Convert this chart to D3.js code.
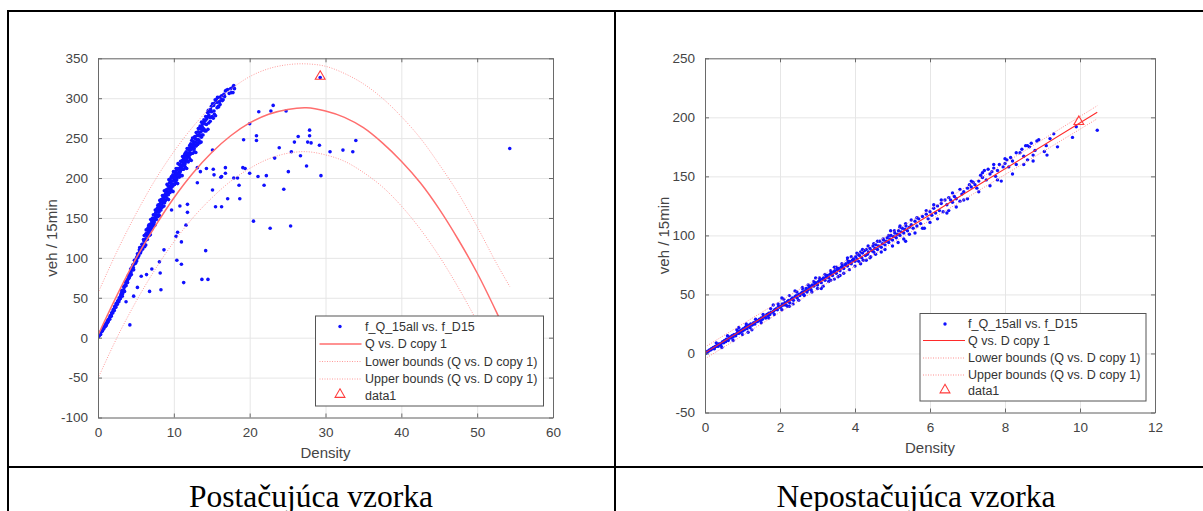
<!DOCTYPE html>
<html>
<head>
<meta charset="utf-8">
<script src="https://cdn.jsdelivr.net/npm/d3@7"></script>
<style>
body { margin: 0; background: #fff; }
svg text { font-family: 'Liberation Sans', Arial, sans-serif; }
</style>
</head>
<body>
<div id="my_dataviz"></div>
<script>
// ---- left panel (Postačujúca vzorka) ----
var leftXTicks = [0, 10, 20, 30, 40, 50, 60];
var leftYTicks = [-100, -50, 0, 50, 100, 150, 200, 250, 300, 350];

// dense band of observations (density, veh / 15min)
var leftBand = [
  [0.05,1],[0.1,2],[0.2,3],[0.3,6],[0.35,4],[0.4,7],[0.5,9],[0.55,8],[0.6,10],[0.7,12],[0.75,11],[0.8,14],
  [0.9,15],[0.95,14],[1.0,17],[1.1,16],[1.15,19],[1.2,18],[1.3,21],[1.35,20],[1.4,23],[1.5,24],[1.55,23],
  [1.6,27],[1.7,28],[1.75,27],[1.8,31],[1.9,32],[1.95,31],[2.0,35],[2.1,36],[2.15,34],[2.2,39],[2.3,40],
  [2.35,38],[2.4,43],[2.5,43],[2.55,42],[2.6,46],[2.7,47],[2.75,45],[2.8,50],[2.9,50],[2.95,49],
  [3.0,53],[3.05,55],[3.1,59],[3.2,52],[3.25,55],[3.3,58],[3.4,64],[3.45,63],[3.5,58],[3.6,70],[3.65,66],
  [3.7,65],[3.8,70],[3.85,72],[3.9,69],[4.0,78],[4.05,74],[4.1,75],[4.2,80],[4.25,81],[4.3,86],[4.4,79],
  [4.45,85],[4.5,85],[4.6,91],[4.65,88],[4.7,85],[4.8,97],[4.85,93],[4.9,93],[5.0,97],[5.05,99],[5.1,96],
  [5.2,105],[5.25,100],[5.3,102],[5.4,106],[5.45,110],[5.5,113],[5.6,106],[5.65,108],[5.7,111],[5.8,117],
  [5.85,116],[5.9,111],[6.0,123],
  [6.05,121],[6.1,128],[6.15,114],[6.2,121],[6.25,129],[6.3,116],[6.35,135],[6.4,123],[6.45,128],[6.5,123],
  [6.55,136],[6.6,129],[6.65,134],[6.7,141],[6.75,128],[6.8,135],[6.85,142],[6.9,129],[6.95,148],[7.0,136],
  [7.05,141],[7.1,136],[7.15,149],[7.2,142],[7.25,147],[7.3,154],[7.35,140],[7.4,147],[7.45,154],[7.5,141],
  [7.55,160],[7.6,148],[7.65,153],[7.7,148],[7.75,161],[7.8,154],[7.85,159],[7.9,166],[7.95,152],[8.0,159],
  [8.05,166],[8.1,153],[8.15,172],[8.2,160],[8.25,165],[8.3,160],[8.35,173],[8.4,166],[8.45,171],[8.5,178],
  [8.55,164],[8.6,171],[8.65,178],[8.7,165],[8.75,184],[8.8,172],[8.85,177],[8.9,172],[8.95,185],[9.0,178],
  [9.05,183],[9.1,192],[9.15,174],[9.2,181],[9.25,190],[9.3,173],[9.35,198],[9.4,182],[9.45,188],[9.5,182],
  [9.55,197],[9.6,187],[9.65,193],[9.7,202],[9.75,184],[9.8,192],[9.85,200],[9.9,183],[9.95,208],[10.0,192],
  [10.05,198],[10.1,192],[10.15,207],[10.2,197],[10.25,203],[10.3,212],[10.35,194],[10.4,201],[10.45,210],
  [10.5,193],[10.55,218],[10.6,202],[10.65,207],[10.7,201],[10.75,217],[10.8,207],[10.85,213],[10.9,221],
  [10.95,203],[11.0,211],[11.05,220],[11.1,203],[11.15,227],[11.2,211],[11.25,217],[11.3,211],[11.35,227],
  [11.4,216],[11.45,222],[11.5,231],[11.55,213],[11.6,221],[11.65,229],[11.7,212],[11.75,237],[11.8,221],
  [11.85,227],[11.9,220],[11.95,236],[12.0,226],[12.05,232],[12.1,241],[12.15,223],[12.2,230],[12.25,239],
  [12.3,222],[12.35,247],[12.4,231],[12.45,237],[12.5,231],[12.55,246],[12.6,236],[12.65,242],[12.7,251],
  [12.75,233],[12.8,241],[12.85,249],[12.9,232],[12.95,257],[13.0,241],[13.1,248],[13.15,242],[13.2,258],
  [13.25,248],[13.3,253],[13.35,262],[13.4,244],[13.5,253],[13.55,262],[13.6,245],[13.65,270],[13.7,254],
  [13.8,260],[13.85,254],[13.9,270],[14.0,261],[14.1,268],[14.2,277],[14.25,259],[14.3,267],[14.4,277],
  [14.5,261],[14.55,285],[14.6,269],[14.7,276],[14.8,271],[14.85,286],[14.9,276],[15.0,283],[15.1,293],
  [15.2,275],[15.3,284],[15.4,294],[15.5,278],[15.6,298],[15.7,288],[15.8,295],[15.9,289],[16.0,301],
  [16.1,292],[16.2,300],[16.4,297],[16.5,298],[16.6,305],[16.8,309],[16.9,310],[17.1,311],[17.6,307],
  [17.8,307],[17.8,314],[17.9,316],[18.0,312]
];
// more band observations, filling the band
var leftBandFill = [
  [0.15,3],[0.45,8],[0.65,11],[0.85,13],[1.05,15],[1.25,21],[1.45,23],[1.65,27],[1.85,31],[2.05,34],[2.25,38],
  [2.45,41],[2.65,45],[2.85,48],[3.12,56],[3.38,60],[3.58,66],[3.72,69],[3.92,73],[4.08,76],[4.18,77],[4.33,82],
  [4.48,88],[4.58,86],[4.72,92],[4.88,96],[4.98,94],[5.12,101],[5.28,104],[5.38,103],[5.52,108],[5.68,113],
  [5.78,112],[5.92,117],[6.02,116],
  [6.12,117],[6.28,124],[6.33,130],[6.47,131],[6.58,127],[6.63,138],[6.78,132],[6.83,137],[6.97,139],[7.08,145],
  [7.13,139],[7.22,150],[7.31,144],[7.42,145],[7.48,150],[7.57,151],[7.63,157],[7.72,153],[7.83,152],[7.88,163],
  [7.97,161],[8.03,157],[8.12,167],[8.18,163],[8.27,170],[8.33,166],[8.42,163],[8.53,174],[8.58,169],[8.62,175],
  [8.73,176],[8.78,169],[8.92,181],[8.97,176],[9.07,179],[9.13,186],[9.22,186],[9.28,179],[9.33,190],[9.43,194],
  [9.48,185],[9.57,190],[9.62,200],[9.73,196],[9.78,189],[9.87,204],[9.93,191],[10.03,203],[10.08,196],
  [10.17,200],[10.23,208],[10.33,205],[10.38,198],[10.47,206],[10.52,212],[10.62,212],[10.68,204],[10.73,211],
  [10.82,217],[10.88,209],[10.97,216],[11.03,213],[11.12,222],[11.18,215],[11.27,224],[11.33,219],[11.42,229],
  [11.48,218],[11.57,226],[11.63,233],[11.72,224],[11.78,231],[11.88,236],[11.93,229],[12.02,238],[12.08,229],
  [12.17,235],[12.23,243],[12.32,236],[12.38,241],[12.47,250],[12.53,240],[12.62,244],[12.68,237],[12.78,252],
  [12.83,245],[12.92,240],[13.03,253],[13.08,244],[13.17,254],[13.23,262],[13.32,247],[13.38,257],[13.47,265],
  [13.57,258],[13.63,251],[13.72,265],[13.78,268],[13.88,262],[13.97,273],[14.08,259],[14.15,272],[14.33,274],
  [14.45,282],[14.62,279],[14.75,283],[14.95,290],[15.05,277],[15.25,291],[15.35,280],[15.45,298],[15.65,295],
  [15.75,301],[15.85,290],[16.05,296],[16.3,303],[16.7,302],[17.3,306],[17.5,312]
];
// scattered observations
var leftScatter = [
  [29.3,326],[21.2,283],[22.8,284],[23.1,291],[24.8,284],[20.0,268],[20.9,253],[20.9,247],[19.2,248],[15.1,235],
  [23.9,238],[25.9,245],[26.4,252],[27.9,260],[27.9,253],[27.65,245],[28.1,244],[29.2,241],[25.5,233],[26.7,228],
  [23.3,225],[30.6,233],[32.3,235],[33.6,233],[34.0,247],[27.5,215],[25.1,208],[29.4,203],[21.1,202],[22.2,203],
  [20.0,206],[19.1,213],[19.4,212],[16.8,213],[16.8,206],[15.2,211],[15.3,204],[14.3,212],[13.5,208],[13.1,213],
  [16.2,201],[16.3,202],[17.9,200],[18.4,200],[18.6,191],[13.1,194],[21.9,191],[24.5,186],[15.1,185],[17.1,174],
  [18.7,174],[15.5,164],[16.3,164],[10.8,165],[11.8,167],[11.8,157],[11.6,141],[20.5,146],[22.7,137],[25.4,140],
  [11.0,120],[14.2,109],[11.0,92],[11.3,69],[13.7,73],[14.5,73],[54.3,237],
  [4.2,16],[3.7,45],[4.7,52],[5.2,63],[6.8,58],[8.3,60],[5.7,77],[6.4,79],[7.1,86],[8.2,81],[8.1,95],[8.7,110],
  [10.4,97],[10.3,127],[10.5,132],[9.7,160]
];
var leftFitD   = [0, 2.5, 5, 7.5, 10, 12.5, 15, 17.5, 20, 22.5, 25, 27.5, 30, 32.5, 35, 37.5, 40, 42.5, 45, 47.5, 50, 52.5, 54.3];
var leftFitQ   = [3, 53, 99, 139, 175, 206, 232, 253, 269, 280, 286, 288, 284, 276, 263, 244, 221, 194, 161, 123, 81, 33, -4];
var leftUpperQ = [56, 108, 155, 197, 233, 264, 290, 311, 327, 337, 342, 343, 340, 331, 318, 300, 277, 250, 217, 181, 139, 94, 64];
var leftLowerQ = [-51, 0, 45, 85, 120, 150, 175, 196, 212, 224, 231, 233, 229, 221, 207, 189, 165, 136, 102, 63, 20, -26, -64];
var leftData1 = [[29.3, 326]];

// ---- right panel (Nepostačujúca vzorka) ----
var rightXTicks = [0, 2, 4, 6, 8, 10, 12];
var rightYTicks = [-50, 0, 50, 100, 150, 200, 250];
var rightPoints = [
  [0.02,0],[0.05,1],[0.07,2],[0.1,2],[0.12,3],[0.15,3],[0.17,4],[0.2,4],[0.22,5],[0.25,4],[0.27,6],[0.3,6],
  [0.32,7],[0.35,6],[0.37,8],[0.4,8],[0.42,7],[0.45,9],[0.47,10],[0.5,9],[0.52,11],[0.55,10],[0.57,12],[0.6,12],
  [0.62,11],[0.65,13],[0.67,14],[0.7,13],[0.72,15],[0.75,14],[0.77,16],[0.8,16],[0.82,15],[0.85,17],[0.87,18],
  [0.9,17],[0.92,19],[0.95,18],[0.97,20],[1.0,19],[1.02,21],[1.05,20],[1.07,22],[1.1,23],[1.12,21],[1.15,23],
  [1.17,24],[1.2,22],[1.22,25],[1.25,24],
  [1.28,25],[1.3,26],[1.33,25],[1.36,27],[1.4,27],[1.42,28],[1.45,29],[1.48,28],[1.5,30],[1.53,29],[1.56,31],
  [1.6,31],[1.62,30],[1.65,33],[1.68,32],[1.7,34],[1.73,33],[1.76,35],[1.8,35],[1.83,36],[1.86,37],[1.9,38],
  [1.93,37],[1.96,40],[2.0,39],[2.03,40],[2.06,42],[2.1,41],[2.13,43],[2.16,41],[2.2,44],[2.23,45],[2.26,43],
  [2.3,46],[2.33,47],[2.36,45],[2.4,48],[2.43,49],[2.46,47],[2.5,50],
  [1.82,41],[2.05,47],[2.25,40],[1.15,18],[0.9,22],
  [2.53,49],[2.56,51],[2.6,52],[2.63,50],[2.66,53],[2.7,55],[2.72,52],[2.75,54],[2.78,56],[2.8,57],[2.83,54],
  [2.86,58],[2.9,57],[2.93,59],[2.96,60],[3.0,58],[3.03,61],[3.06,62],[3.1,60],[3.13,63],[3.16,64],[3.2,62],
  [3.23,65],[3.26,66],[3.3,64],[3.33,67],[3.36,68],[3.4,66],[3.43,69],[3.46,70],[3.5,68],[3.53,71],[3.56,72],
  [3.6,70],[3.63,73],[3.66,74],[3.7,72],[3.73,75],[3.76,76],[3.8,74],[3.83,77],[3.86,78],[3.9,76],[3.93,79],
  [3.96,80],[4.0,78],
  [2.6,56],[2.95,64],[3.35,62],[3.55,65],[3.8,81],[3.45,73],[2.4,53],[3.1,55],
  [4.02,82],[4.05,80],[4.08,84],[4.1,78],[4.12,83],[4.15,86],[4.18,81],[4.2,85],[4.22,79],[4.25,87],[4.28,83],
  [4.3,88],[4.33,84],[4.36,86],[4.4,89],[4.42,82],[4.45,87],[4.48,91],[4.5,86],[4.53,89],[4.56,92],[4.6,88],
  [4.63,91],[4.66,95],[4.7,90],[4.73,93],[4.76,96],[4.8,92],[4.83,95],[4.86,98],[4.9,94],[4.93,97],[4.96,100],
  [5.0,96],[5.03,99],[5.06,102],[5.1,98],[5.13,101],[5.16,104],[5.2,100],[5.23,103],[5.26,106],[5.3,102],
  [5.33,105],[5.36,108],[5.4,104],[5.45,107],[5.5,109],
  [5.35,95],[4.95,104],[5.2,108],
  [5.55,106],[5.6,112],[5.65,108],[5.7,114],[5.75,110],[5.8,116],[5.85,106],[5.9,118],[5.95,114],[6.0,120],
  [6.05,117],[6.1,123],[6.15,119],[6.2,125],[6.25,121],[6.3,127],[6.35,120],[6.4,130],[6.45,126],[6.45,119],
  [6.5,132],[6.55,130],[6.6,128],[6.65,133],[6.7,131],[6.8,129],[6.85,135],[6.9,137],[6.9,130],[7.0,140],
  [7.05,143],[7.1,141],[7.15,145],[7.2,143],[7.25,140],[7.3,146],[7.35,151],[7.4,149],[7.45,155],[7.5,147],
  [7.55,156],[7.6,152],[7.65,154],[7.7,157],[7.75,150],[7.8,155],[7.85,160],[7.9,146],[7.95,158],
  [8.0,161],[8.05,164],[8.1,158],[8.15,166],[8.2,163],[8.3,160],[8.4,170],[8.45,173],[8.5,167],[8.55,176],
  [8.6,164],[8.65,175],[8.7,178],[8.75,168],[8.8,172],[8.85,180],[9.1,176],[9.12,168],[9.2,182],[9.4,175],
  [9.8,183],[9.9,192],[10.46,189]
];
// observations further from the fitted line
var rightOuter = [
  [0.3,9],[0.45,5],[0.6,15],[0.75,11],[0.85,20],[1.0,16],[1.1,25],[1.25,20],[1.35,29],[1.5,26],[1.55,33],
  [1.7,30],[1.75,38],[1.85,33],[1.95,42],[2.05,37],[2.1,46],[2.2,40],[2.25,49],[2.35,42],[2.45,52],[2.5,45],
  [2.6,55],[2.65,49],[2.75,58],[2.85,52],[2.9,61],[3.0,55],[3.05,64],[3.15,57],[3.2,67],[3.3,61],[3.35,70],
  [3.45,63],[3.5,73],[3.6,66],[3.65,76],[3.7,68],[3.8,79],[3.85,71],[3.9,82],[4.0,74],[4.05,85],[4.15,76],
  [4.2,88],[4.3,79],[4.35,91],[4.4,81],[4.5,93],[4.55,84],[4.6,95],[4.7,86],[4.75,97],[4.8,88],[4.9,100],
  [5.0,91],[5.05,104],[5.15,94],[5.2,107],[5.3,97],[5.35,110],[5.45,101],[5.5,113],[5.6,102],[5.65,115],
  [5.8,106],[5.9,121],[6.0,111],[6.1,126],[6.2,114],[6.3,130],[6.5,121],[6.6,136],[6.7,124],[6.8,139],
  [7.0,131],[7.1,146],[7.3,137],[7.4,153],[7.6,142],[7.7,160],[7.8,147],[8.0,165],[8.2,152],[8.3,170],
  [8.5,160],[8.6,176],[8.75,163],[8.9,181],[9.05,171],[9.3,186]
];
var rightFitD   = [0, 5, 10.46];
var rightFitQ   = [0.5, 98, 204.3];
var rightUpperQ = [5.5, 102.5, 209.8];
var rightLowerQ = [-4.5, 93.5, 198.8];
var rightData1 = [[9.97, 195.5]];

var legendLabels = ['f_Q_15all vs. f_D15', 'Q vs. D copy 1', 'Lower bounds (Q vs. D copy 1)',
                    'Upper bounds (Q vs. D copy 1)', 'data1'];
var captions = ['Postačujúca vzorka', 'Nepostačujúca vzorka'];

var W = 1203, H = 511;
var svg = d3.select('#my_dataviz')
  .append('svg')
  .attr('width', W)
  .attr('height', H);

// table lines
var tableLines = [[7, 11, 1203, 11], [8, 10, 8, 511], [615, 10, 615, 511], [7, 467, 1203, 467]];
svg.selectAll('line.tbl')
  .data(tableLines)
  .enter().append('line')
  .attr('x1', function(d) { return d[0]; })
  .attr('y1', function(d) { return d[1]; })
  .attr('x2', function(d) { return d[2]; })
  .attr('y2', function(d) { return d[3]; })
  .style('stroke', '#000')
  .style('stroke-width', 2);

svg.selectAll('text.cap')
  .data(captions)
  .enter().append('text')
  .attr('x', function(d, i) { return i == 0 ? 311 : 916; })
  .attr('y', 507)
  .attr('text-anchor', 'middle')
  .style('font-family', "'Liberation Serif', 'Times New Roman', serif")
  .style('font-size', '31.5px')
  .style('fill', '#000')
  .text(function(d) { return d; });

function drawPanel(p, id) {
  var width = p.right - p.left, height = p.bottom - p.top;
  var g = svg.append('g').attr('transform', 'translate(' + p.left + ',' + p.top + ')');

  var x = d3.scaleLinear().domain(p.xDomain).range([0, width]);
  var y = d3.scaleLinear().domain(p.yDomain).range([height, 0]);
  var fmt = function(d) { return String(d); };

  g.append('defs').append('clipPath').attr('id', 'clip' + id)
    .append('rect').attr('width', width).attr('height', height);

  // grid
  g.append('g')
    .attr('transform', 'translate(0,' + height + ')')
    .call(d3.axisBottom(x).tickValues(p.xTicks).tickSize(-height).tickFormat(''))
    .call(function(s) { s.select('.domain').remove(); s.selectAll('line').style('stroke', '#e6e6e6'); });
  g.append('g')
    .call(d3.axisLeft(y).tickValues(p.yTicks).tickSize(-width).tickFormat(''))
    .call(function(s) { s.select('.domain').remove(); s.selectAll('line').style('stroke', '#e6e6e6'); });

  var plot = g.append('g').attr('clip-path', 'url(#clip' + id + ')');

  plot.selectAll('circle')
    .data(p.points)
    .enter().append('circle')
    .attr('cx', function(d) { return x(d[0]); })
    .attr('cy', function(d) { return y(d[1]); })
    .attr('r', p.dotR)
    .style('fill', '#1010ff');

  var line = d3.line().curve(d3.curveCatmullRom)
    .x(function(d) { return x(d[0]); })
    .y(function(d) { return y(d[1]); });
  function zipped(q) { return p.fitD.map(function(d, i) { return [d, q[i]]; }); }

  plot.append('path').datum(zipped(p.fitQ))
    .attr('d', line).style('fill', 'none')
    .style('stroke', p.fitColor).style('stroke-width', p.fitWidth);
  [p.lowerQ, p.upperQ].forEach(function(q) {
    plot.append('path').datum(zipped(q))
      .attr('d', line).style('fill', 'none')
      .style('stroke', p.boundColor).style('stroke-width', 1)
      .style('stroke-dasharray', '1,1.5');
  });

  var tri = d3.symbol().type(d3.symbolTriangle).size(42);
  plot.selectAll('path.tri')
    .data(p.data1)
    .enter().append('path')
    .attr('class', 'tri')
    .attr('d', tri)
    .attr('transform', function(d) { return 'translate(' + x(d[0]) + ',' + (y(d[1]) - 1) + ')'; })
    .style('fill', 'none').style('stroke', '#ff3b3b').style('stroke-width', 1.1);

  // axes with inward ticks on all sides
  var axisColor = '#6a6a6a', textColor = '#444';
  function styleAxis(s) {
    s.select('.domain').style('stroke', axisColor);
    s.selectAll('line').style('stroke', axisColor);
    s.selectAll('text').style('fill', textColor).style('font-size', '13.5px')
      .style('font-family', "'Liberation Sans', Arial, sans-serif");
  }
  g.append('g')
    .attr('transform', 'translate(0,' + height + ')')
    .call(d3.axisBottom(x).tickValues(p.xTicks).tickSize(-4).tickSizeOuter(0).tickPadding(10).tickFormat(fmt))
    .call(styleAxis);
  g.append('g')
    .call(d3.axisLeft(y).tickValues(p.yTicks).tickSize(-4).tickSizeOuter(0).tickPadding(10).tickFormat(fmt))
    .call(styleAxis);
  g.append('g')
    .call(d3.axisTop(x).tickValues(p.xTicks).tickSize(-4).tickSizeOuter(0).tickFormat(''))
    .call(styleAxis);
  g.append('g')
    .attr('transform', 'translate(' + width + ',0)')
    .call(d3.axisRight(y).tickValues(p.yTicks).tickSize(-4).tickSizeOuter(0).tickFormat(''))
    .call(styleAxis);

  // axis labels
  g.append('text')
    .attr('x', width / 2).attr('y', height + 35).attr('dy', '0.35em')
    .attr('text-anchor', 'middle')
    .style('font-size', '15px').style('fill', textColor)
    .text('Density');
  g.append('text')
    .attr('transform', 'translate(' + (p.yLabelX - p.left) + ',' + (height / 2) + ') rotate(-90)')
    .attr('dy', '0.35em')
    .attr('text-anchor', 'middle')
    .style('font-size', '15px').style('fill', textColor)
    .text('veh / 15min');

  // legend
  var L = p.legend;
  var lg = svg.append('g').attr('transform', 'translate(' + L.x + ',' + L.y + ')');
  lg.append('rect')
    .attr('width', L.w).attr('height', L.h)
    .style('fill', '#fff').style('stroke', '#555').style('stroke-width', 1);
  var rows = lg.selectAll('g.row')
    .data(legendLabels)
    .enter().append('g')
    .attr('transform', function(d, i) { return 'translate(0,' + L.rows[i] + ')'; });
  rows.append('text')
    .attr('x', L.textX).attr('dy', '0.35em')
    .style('font-size', '12.5px').style('fill', '#333')
    .text(function(d) { return d; });
  rows.each(function(d, i) {
    var r = d3.select(this);
    if (i == 0) {
      r.append('circle').attr('cx', L.iconMid).attr('r', 1.7).style('fill', '#1010ff');
    } else if (i == 4) {
      r.append('path').attr('d', tri).attr('transform', 'translate(' + L.iconMid + ',-1)')
        .style('fill', 'none').style('stroke', '#ff3b3b').style('stroke-width', 1.1);
    } else {
      r.append('line').attr('x1', L.iconX1).attr('x2', L.iconX2)
        .style('stroke', i == 1 ? p.fitColor : p.boundColor)
        .style('stroke-width', i == 1 ? p.fitWidth : 1)
        .style('stroke-dasharray', i == 1 ? null : '1,1.5');
    }
  });
}

drawPanel({
  left: 98, right: 553, top: 58.3, bottom: 417.5,
  xDomain: [0, 60], yDomain: [-100, 350], xTicks: leftXTicks, yTicks: leftYTicks,
  points: leftBand.concat(leftBandFill, leftScatter), dotR: 1.8,
  fitD: leftFitD, fitQ: leftFitQ, upperQ: leftUpperQ, lowerQ: leftLowerQ, data1: leftData1,
  fitColor: '#ff6e6e', fitWidth: 1.5, boundColor: '#ff9a9a',
  yLabelX: 52,
  legend: { x: 315.5, y: 316, w: 228, h: 90, rows: [10.5, 28, 45.5, 63, 79.5],
            textX: 49.5, iconX1: 4, iconX2: 46, iconMid: 24.5 }
}, 'L');

drawPanel({
  left: 705, right: 1155, top: 58.3, bottom: 412.5,
  xDomain: [0, 12], yDomain: [-50, 250], xTicks: rightXTicks, yTicks: rightYTicks,
  points: rightPoints.concat(rightOuter), dotR: 1.7,
  fitD: rightFitD, fitQ: rightFitQ, upperQ: rightUpperQ, lowerQ: rightLowerQ, data1: rightData1,
  fitColor: '#ff2a2a', fitWidth: 1.1, boundColor: '#ff8f8f',
  yLabelX: 663.5,
  legend: { x: 920, y: 313.5, w: 226, h: 87.5, rows: [10.5, 27, 44.5, 61.5, 77.5],
            textX: 48, iconX1: 3, iconX2: 45, iconMid: 25 }
}, 'R');
</script>
</body>
</html>
